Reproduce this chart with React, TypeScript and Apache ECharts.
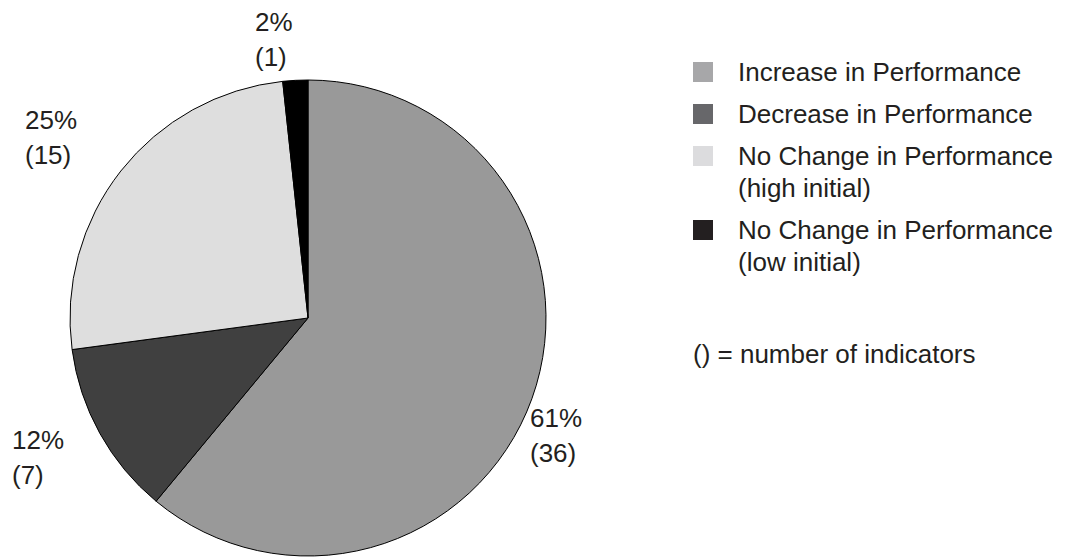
import React, { useEffect, useRef } from "react";
import * as echarts from "echarts";

// Categories and counts of indicators
const CATEGORIES = [
  "Increase in Performance",
  "Decrease in Performance",
  "No Change in Performance\n(high initial)",
  "No Change in Performance\n(low initial)",
];
const COUNTS = [36, 7, 15, 1];
const SLICE_COLORS = ["#999999", "#404040", "#dedede", "#000000"];
const LEGEND_COLORS = ["#a7a7a9", "#67676a", "#dcdcde", "#231f20"];
const NOTE = "() = number of indicators";

// Layout constants
const FONT = "Liberation Sans, Arial, Helvetica, sans-serif";
const TEXT_COLOR = "#231f20";
const FONT_SIZE = 26;
const LABEL_LINE_H = 35;
const LABEL_ANCHORS: [number, number][] = [
  [530, 400],
  [12, 422],
  [25, 102],
  [255, 4],
];
const LEGEND_X = 693;
const LEGEND_TEXT_X = 738;
const LEGEND_TOP = 72;
const LEGEND_LINE_H = 32;
const LEGEND_GAP = 10;
const BOX = 20;

export default function App() {
  const ref = useRef<HTMLDivElement>(null);

  useEffect(() => {
    if (!ref.current) return;
    const chart = echarts.init(ref.current, undefined, { renderer: "svg" });

    const graphics: any[] = [];
    let y = LEGEND_TOP;
    CATEGORIES.forEach((name, i) => {
      graphics.push({
        type: "rect",
        shape: { x: LEGEND_X, y: y - BOX / 2, width: BOX, height: BOX },
        style: { fill: LEGEND_COLORS[i] },
      });
      graphics.push({
        type: "text",
        x: LEGEND_TEXT_X,
        y: y - LEGEND_LINE_H / 2,
        style: {
          text: name,
          fill: TEXT_COLOR,
          font: `${FONT_SIZE}px ${FONT}`,
          lineHeight: LEGEND_LINE_H,
          textVerticalAlign: "top",
          textAlign: "left",
        },
      });
      const lines = name.split("\n").length;
      y += lines * LEGEND_LINE_H + LEGEND_GAP;
    });
    graphics.push({
      type: "text",
      x: LEGEND_X,
      y: 354 - LEGEND_LINE_H / 2,
      style: {
        text: NOTE,
        fill: TEXT_COLOR,
        font: `${FONT_SIZE}px ${FONT}`,
        lineHeight: LEGEND_LINE_H,
        textVerticalAlign: "top",
        textAlign: "left",
      },
    });

    chart.setOption({
      animation: false,
      backgroundColor: "#ffffff",
      graphic: graphics,
      series: [
        {
          type: "pie",
          center: [308, 318],
          radius: 238,
          startAngle: 90,
          clockwise: true,
          silent: true,
          itemStyle: { borderColor: "#000000", borderWidth: 1 },
          label: {
            show: true,
            position: "outside",
            alignTo: "none",
            overflow: "none",
            color: TEXT_COLOR,
            fontFamily: FONT,
            fontSize: FONT_SIZE,
            lineHeight: LABEL_LINE_H,
            align: "left",
            formatter: (p: any) => `${Math.round(p.percent)}%\n(${p.value})`,
          },
          labelLine: { show: false },
          labelLayout: (p: any) => {
            const a = LABEL_ANCHORS[p.dataIndex];
            return { x: a[0], y: a[1], align: "left", verticalAlign: "top" };
          },
          data: CATEGORIES.map((name, i) => ({
            name,
            value: COUNTS[i],
            itemStyle: { color: SLICE_COLORS[i] },
          })),
        },
      ],
    });

    return () => chart.dispose();
  }, []);

  return (
    <div
      ref={ref}
      style={{ position: "fixed", left: 0, top: 0, width: 1065, height: 557 }}
    />
  );
}
